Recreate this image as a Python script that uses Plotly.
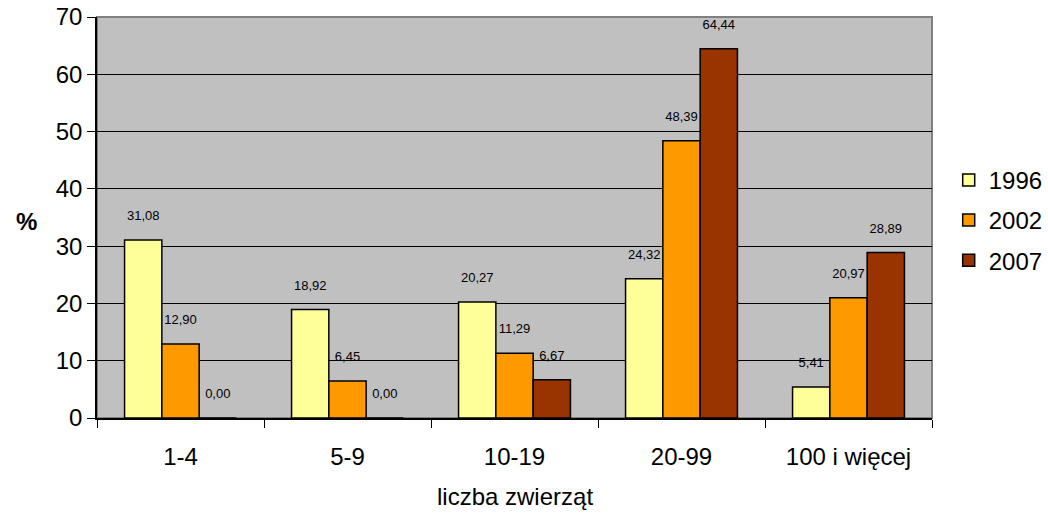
import plotly.graph_objects as go

categories = ["1-4", "5-9", "10-19", "20-99", "100 i więcej"]
years = ["1996", "2002", "2007"]
v1996 = [31.08, 18.92, 20.27, 24.32, 5.41]
v2002 = [12.90, 6.45, 11.29, 48.39, 20.97]
v2007 = [0.00, 0.00, 6.67, 64.44, 28.89]
colors = ["#FFFF99", "#FF9900", "#993300"]
y_ticks = [0, 10, 20, 30, 40, 50, 60, 70]

def fmt(v):
    return f"{v:.2f}".replace(".", ",") + "<br><span style='font-size:2px'>.</span>"

fig = go.Figure()
for name, vals, col in zip(years, [v1996, v2002, v2007], colors):
    fig.add_trace(go.Bar(
        x=categories, y=vals, name=name, legendgroup=name,
        marker=dict(color=col, line=dict(color="black", width=1.5)),
        text=[fmt(v) for v in vals], textposition="outside", constraintext="none",
        textfont=dict(family="Arial", size=13, color="black"),
        cliponaxis=False,
    ))

fig.update_layout(
    width=1048, height=518,
    margin=dict(l=97, r=116, t=17, b=100, autoexpand=False),
    paper_bgcolor="white", plot_bgcolor="#C0C0C0",
    barmode="group", bargap=0.33, bargroupgap=0,
    font=dict(family="Arial", color="black"),
    showlegend=True,
    legend=dict(x=1.02, y=0.493, xanchor="left", yanchor="middle",
                font=dict(size=24, family="Arial"), tracegroupgap=6,
                itemwidth=30),
    uniformtext=dict(mode=False),
    shapes=[dict(type="rect", xref="paper", yref="paper", x0=0, x1=1, y0=0, y1=1,
                 line=dict(color="#808080", width=2), layer="below")],
    annotations=[
        dict(text="<b>%</b>", xref="paper", yref="paper", x=-0.1, y=0.49,
             showarrow=False, font=dict(size=24, family="Arial"), xanchor="left"),
        dict(text="liczba zwierząt", xref="paper", yref="paper", x=0.5, y=-0.197,
             showarrow=False, font=dict(size=24, family="Arial"), yanchor="middle"),
    ],
)
fig.update_xaxes(showline=True, linecolor="black", linewidth=1.5, automargin=False,
                 ticks="outside", tickson="boundaries", ticklen=8, tickcolor="black",
                 tickfont=dict(size=24, family="Arial"), ticklabelstandoff=16)
fig.update_yaxes(range=[0, 70], tickvals=y_ticks, showline=True, linecolor="black",
                 linewidth=1.5, ticks="outside", ticklen=8, tickcolor="black",
                 showgrid=True, gridcolor="black", gridwidth=1, automargin=False,
                 tickfont=dict(size=24, family="Arial"), zeroline=False)

fig.write_html("out.html", post_script="document.body.style.margin='0';",
               config={"displayModeBar": False})
